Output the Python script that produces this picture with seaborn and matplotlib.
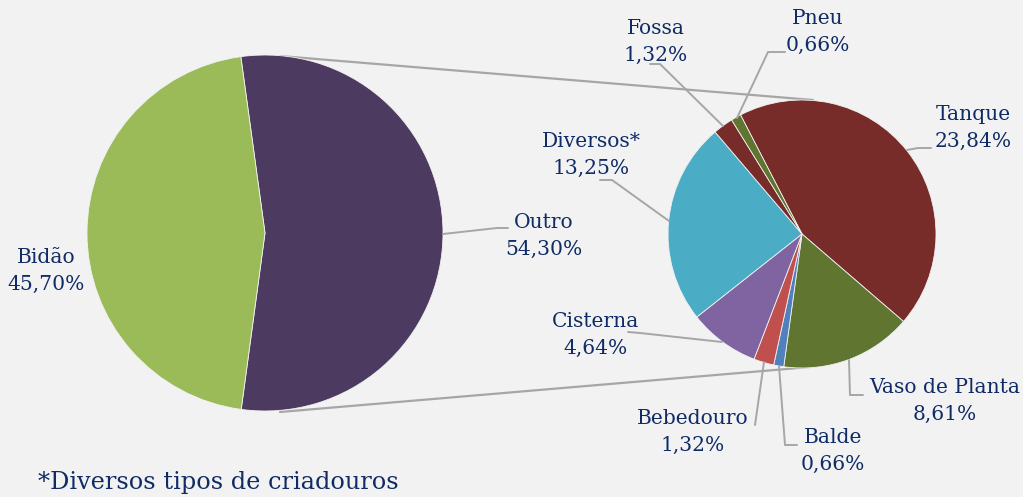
import numpy as np
import matplotlib
matplotlib.use("Agg")
import matplotlib.pyplot as plt
import seaborn as sns

# ---- data ----
main_labels = ["Outro", "Bidão"]
main_values = [54.30, 45.70]
main_colors = ["#4D3A60", "#9BBB59"]

sub_labels = ["Tanque", "Vaso de Planta", "Balde", "Bebedouro",
              "Cisterna", "Diversos*", "Fossa", "Pneu"]
sub_values = [23.84, 8.61, 0.66, 1.32, 4.64, 13.25, 1.32, 0.66]
sub_colors = ["#772C2A", "#5F7530", "#4F81BD", "#C0504D",
              "#8064A2", "#4BACC6", "#772C2A", "#5F7530"]

footnote = "*Diversos tipos de criadouros"

# ---- style ----
sns.set_theme(style="white")
plt.rcParams['font.family'] = ['DejaVu Serif']
BG = "#F2F2F2"
TXT = "#102C66"
LINE = "#A6A6A6"

W, H = 1023, 497
fig = plt.figure(figsize=(W / 100, H / 100), dpi=100, facecolor=BG)
ax = fig.add_axes([0, 0, 1, 1])
ax.set_facecolor(BG)

def Y(y):
    return H - y

def fmt(v):
    return f"{v:.2f}".replace(".", ",") + "%"

# left (main) pie
ax.pie(main_values, colors=main_colors, startangle=97.8, counterclock=False,
       center=(265, Y(233)), radius=178,
       wedgeprops=dict(edgecolor=BG, linewidth=0.6))
# right (sub) pie
ax.pie(sub_values, colors=sub_colors, startangle=117.3, counterclock=False,
       center=(802, Y(234)), radius=134,
       wedgeprops=dict(edgecolor=BG, linewidth=0.6))

ax.set_xlim(0, W)
ax.set_ylim(0, H)
ax.set_aspect("equal")
ax.axis("off")

# connector lines between pies
for (x0, y0), (x1, y1) in [((280, 56), (813, 100)), ((280, 412), (810, 367))]:
    ax.plot([x0, x1], [Y(y0), Y(y1)], color=LINE, lw=1.6, zorder=0.5)

# label positions and leader paths (pixel coords)
main_pos = {"Outro": (544, 236), "Bidão": (46, 271)}
main_lead = {"Outro": [(443, 234), (497, 228), (508, 228)]}

sub_pos = {"Tanque": (973, 128), "Vaso de Planta": (945, 401),
           "Balde": (833, 451), "Bebedouro": (693, 432),
           "Cisterna": (596, 335), "Diversos*": (591, 155),
           "Fossa": (656, 42), "Pneu": (818, 32)}
sub_lead = {"Tanque": [(907, 150), (918, 148), (931, 148)],
            "Vaso de Planta": [(849, 360), (850, 395), (863, 395)],
            "Balde": [(779, 366), (785, 445), (797, 445)],
            "Bebedouro": [(764, 362), (755, 425)],
            "Cisterna": [(722, 342), (640, 333), (628, 332)],
            "Diversos*": [(669, 221), (612, 180), (600, 180)],
            "Fossa": [(723, 126), (660, 64), (650, 64)],
            "Pneu": [(737, 118), (768, 52), (785, 52)]}

FS = 14.6
LS = 1.55
for lab, val in zip(main_labels, main_values):
    x, y = main_pos[lab]
    ax.text(x, Y(y), f"{lab}\n{fmt(val)}", ha="center", va="center",
            multialignment="center", fontsize=FS, color=TXT, linespacing=LS)
    if lab in main_lead:
        pts = main_lead[lab]
        ax.plot([p[0] for p in pts], [Y(p[1]) for p in pts], color=LINE, lw=1.4)

for lab, val in zip(sub_labels, sub_values):
    x, y = sub_pos[lab]
    ax.text(x, Y(y), f"{lab}\n{fmt(val)}", ha="center", va="center",
            multialignment="center", fontsize=FS, color=TXT, linespacing=LS)
    pts = sub_lead[lab]
    ax.plot([p[0] for p in pts], [Y(p[1]) for p in pts], color=LINE, lw=1.4)

ax.text(38, Y(483), footnote, ha="left", va="center", fontsize=17.3, color=TXT)

fig.savefig("out.png", dpi=100, facecolor=BG)
